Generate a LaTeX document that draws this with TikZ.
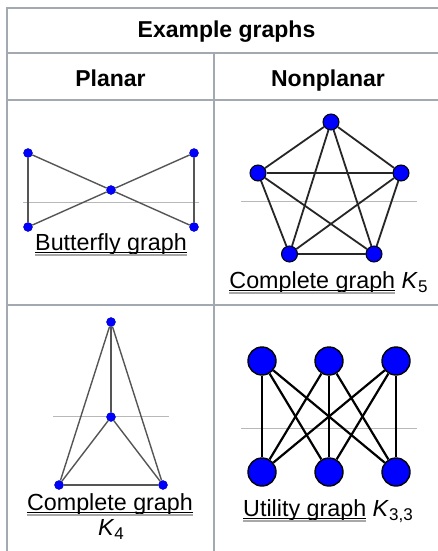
\documentclass[tikz,border=0pt]{standalone}
\usepackage{fontspec}
\setmainfont{Liberation Sans}
\definecolor{tblline}{HTML}{A2A9B1}
\definecolor{nodeblue}{HTML}{0000FF}
\definecolor{edgegray}{HTML}{555555}
\definecolor{refgray}{HTML}{B8B8B8}
\definecolor{ulgray}{HTML}{A8A8A8}
\newcommand\wlink[1]{\setbox0\hbox{#1}\dp0=0pt\vtop{\offinterlineskip\copy0\kern1.6pt\hbox{\rule{\wd0}{1.2pt}}\kern1.3pt\hbox{\color{ulgray}\rule{\wd0}{1.5pt}}}}
\newcommand\subx[1]{\raisebox{-4pt}{\fontsize{17}{17}\selectfont #1}}
\begin{document}
\begin{tikzpicture}[x=1pt,y=-1pt,
  tbl/.style={draw=tblline,line width=2pt},
  smalldot/.style={circle,fill=nodeblue,draw=blue!70!black,line width=0.4pt,inner sep=0,minimum size=9pt},
  middot/.style={circle,fill=nodeblue,draw=black,line width=1pt,inner sep=0,minimum size=16pt},
  bigdot/.style={circle,fill=nodeblue,draw=black,line width=1.4pt,inner sep=0,minimum size=28pt},
  thinedge/.style={draw=edgegray,line width=1.4pt},
  kfive/.style={draw=black!85,line width=1.8pt},
  kthree/.style={draw=black,line width=2.2pt},
  refline/.style={draw=refgray,line width=0.8pt},
  txt/.style={anchor=base,inner sep=0,font=\fontsize{23.3}{25}\selectfont},
  hdr/.style={anchor=base,inner sep=0,font=\fontsize{23}{25}\selectfont\bfseries}]
\useasboundingbox (0,0) rectangle (438,551);
\fill[white] (0,0) rectangle (438,551);
% table
\draw[tbl] (7,560) -- (7,8) -- (450,8);
\draw[tbl] (7,53) -- (450,53);
\draw[tbl] (7,100) -- (450,100);
\draw[tbl] (7,305) -- (450,305);
\draw[tbl] (214,53) -- (214,560);
% headers
\node[hdr] (title) at (226.5,37.5) {Example graphs};
\node[hdr] (planar) at (110.5,86) {Planar};
\node[hdr] (nonplanar) at (328,86) {Nonplanar};
% reference lines
\draw[refline] (23,202) -- (199,202);
\draw[refline] (241,201) -- (417,201);
\draw[refline] (53,416) -- (169,416);
\draw[refline] (241,428) -- (417,428);
% butterfly
\node[smalldot] (b1) at (28,153) {};
\node[smalldot] (b2) at (194,153) {};
\node[smalldot] (b0) at (111,190) {};
\node[smalldot] (b3) at (28,227) {};
\node[smalldot] (b4) at (194,227) {};
\draw[thinedge] (b1) -- (b3);
\draw[thinedge] (b2) -- (b4);
\draw[thinedge] (b1) -- (b0);
\draw[thinedge] (b0) -- (b4);
\draw[thinedge] (b2) -- (b0);
\draw[thinedge] (b0) -- (b3);
\node[txt] (blabel) at (111,250) {\wlink{Butterfly graph}};
% K5
\node[middot] (f1) at (331,122) {};
\node[middot] (f2) at (258,173) {};
\node[middot] (f3) at (401,173) {};
\node[middot] (f4) at (289.5,254) {};
\node[middot] (f5) at (374,254) {};
\foreach \a/\b in {f1/f2,f1/f3,f1/f4,f1/f5,f2/f3,f2/f4,f2/f5,f3/f4,f3/f5,f4/f5}
  \draw[kfive] (\a) -- (\b);
\node[txt] (flabel) at (328.5,288) {\wlink{Complete graph} \textit{K}\subx{5}};
% K4
\node[smalldot] (k1) at (111,322) {};
\node[smalldot] (k0) at (111,417) {};
\node[smalldot] (k2) at (59,485) {};
\node[smalldot] (k3) at (163,485) {};
\foreach \a/\b in {k1/k0,k1/k2,k1/k3,k0/k2,k0/k3,k2/k3}
  \draw[thinedge] (\a) -- (\b);
\node[txt] (klabel) at (110,510) {\wlink{Complete graph}};
\node[txt] (klabelb) at (111,535) {\textit{K}\subx{4}};
% K33
\node[bigdot] (u1) at (262,361) {};
\node[bigdot] (u2) at (329,361) {};
\node[bigdot] (u3) at (396,361) {};
\node[bigdot] (v1) at (262,472) {};
\node[bigdot] (v2) at (329,472) {};
\node[bigdot] (v3) at (396,472) {};
\foreach \a in {u1,u2,u3}
  \foreach \b in {v1,v2,v3}
    \draw[kthree] (\a) -- (\b);
\node[txt] (ulabel) at (328,516) {\wlink{Utility graph} \textit{K}\subx{3,3}};
\end{tikzpicture}
\end{document}
